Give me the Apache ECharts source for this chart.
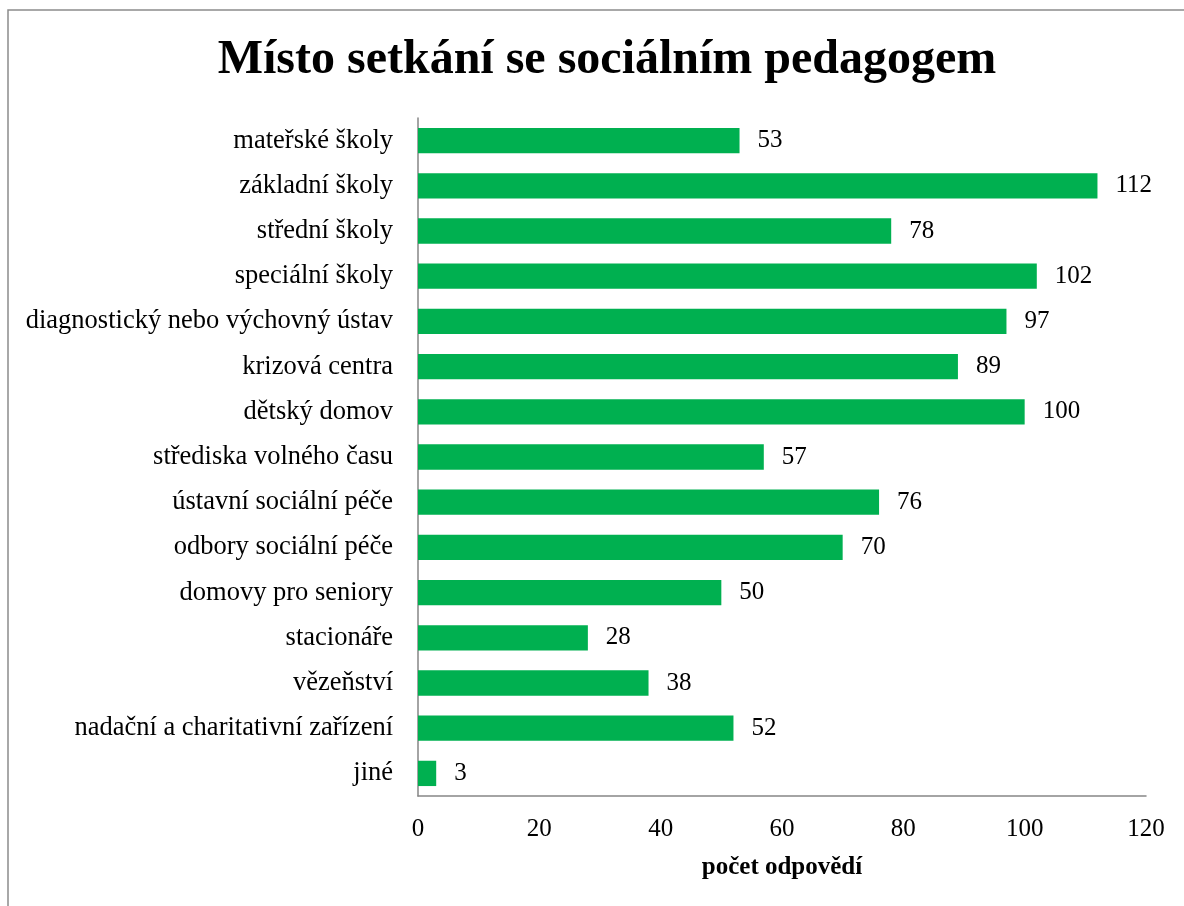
<!DOCTYPE html>
<html><head><meta charset="utf-8">
<script src="https://cdn.jsdelivr.net/npm/echarts@6/dist/echarts.min.js"></script>
<style>html,body{margin:0;padding:0;background:#fff}#c{width:1184px;height:906px}</style>
</head><body><div id="c"></div>
<script>
const categories = ["mateřské školy","základní školy","střední školy","speciální školy","diagnostický nebo výchovný ústav","krizová centra","dětský domov","střediska volného času","ústavní sociální péče","odbory sociální péče","domovy pro seniory","stacionáře","vězeňství","nadační a charitativní zařízení","jiné"];
const values = [53,112,78,102,97,89,100,57,76,70,50,28,38,52,3];
const xTicks = [0,20,40,60,80,100,120];
const titleText = "Místo setkání se sociálním pedagogem";
const axisTitle = "počet odpovědí";

const chart = echarts.init(document.getElementById('c'), null, {renderer:'canvas'});
const serif = "'Liberation Serif','Times New Roman',serif";
chart.setOption({
  animation:false,
  backgroundColor:'#fff',
  graphic:[{type:'rect',shape:{x:8,y:10,width:1300,height:1000},style:{fill:'none',stroke:'#8c8c8c',lineWidth:1.5},silent:true}],
  title:{text:titleText,left:602,textAlign:'center',top:32,textStyle:{fontFamily:serif,fontWeight:'bold',fontSize:48,color:'#000'}},
  grid:{left:418,right:38,top:118,bottom:110,containLabel:false},
  xAxis:{type:'value',min:xTicks[0],max:xTicks[xTicks.length-1],interval:20,
    name:axisTitle,nameLocation:'middle',nameGap:59,
    nameTextStyle:{fontFamily:serif,fontWeight:'bold',fontSize:25,color:'#000'},
    axisLine:{show:true,lineStyle:{color:'#868686',width:1.5}},axisTick:{show:false},splitLine:{show:false},
    axisLabel:{fontFamily:serif,fontSize:25,color:'#000',margin:21}},
  yAxis:{type:'category',data:categories,inverse:true,
    axisLine:{show:true,lineStyle:{color:'#868686',width:1.5}},axisTick:{show:false},
    axisLabel:{fontFamily:serif,fontSize:26.5,color:'#000',margin:25}},
  series:[{type:'bar',data:values,barWidth:'56%',itemStyle:{color:'#00B050'},
    label:{show:true,position:'right',distance:18,fontFamily:serif,fontSize:25,color:'#000'}}]
});
</script></body></html>
